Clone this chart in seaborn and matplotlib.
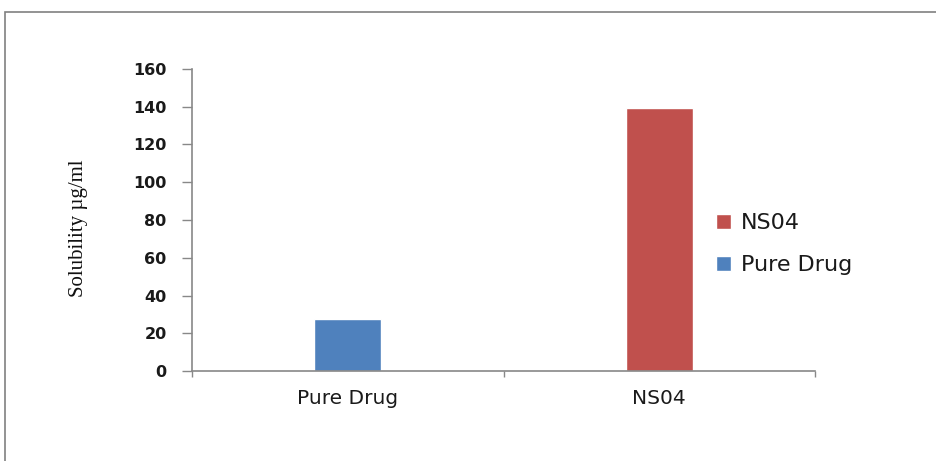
import matplotlib
matplotlib.use("Agg")
import matplotlib.pyplot as plt
from matplotlib.patches import Rectangle, Patch
import seaborn as sns
import pandas as pd

categories = ["Pure Drug", "NS04"]
solubility = [27.5, 139.5]
colors = {"Pure Drug": "#4F81BD", "NS04": "#C0504D"}
y_ticks = [0, 20, 40, 60, 80, 100, 120, 140, 160]

df = pd.DataFrame({"Formulation": categories, "Solubility": solubility})

sns.set_style("white")
plt.rcParams["font.family"] = ["DejaVu Sans"]

fig = plt.figure(figsize=(9.36, 4.61), dpi=100)
ax = fig.add_axes([192 / 936, 1 - 371 / 461, (815 - 192) / 936, (371 - 69) / 461])

sns.barplot(data=df, x="Formulation", y="Solubility", hue="Formulation",
            palette=colors, dodge=False, width=0.215, legend=False, ax=ax,
            saturation=1)

text_color = "#1A1A1A"
ax.set_xlim(-0.5, 1.5)
ax.set_ylim(0, 160)
ax.set_yticks(y_ticks)
ax.set_yticklabels([str(t) for t in y_ticks], fontsize=11.5, color=text_color,
                   fontweight="bold")
ax.set_xticks([0, 1])
ax.set_xticklabels(categories, fontsize=14.5, color=text_color)
ax.set_xlabel("")
ax.set_ylabel("")
fig.text(78 / 936, 1 - 228 / 461, "Solubility µg/ml", rotation=90,
         ha="center", va="center", fontsize=15, family="Liberation Serif",
         color="#111111")

gray = "#888888"
for side in ["top", "right"]:
    ax.spines[side].set_visible(False)
for side in ["left", "bottom"]:
    ax.spines[side].set_color(gray)
    ax.spines[side].set_linewidth(1.2)

ax.tick_params(axis="y", direction="out", length=7.2, width=1, color=gray,
               left=True, pad=11)
ax.tick_params(axis="x", which="major", length=0, pad=13)
# category separators on the x axis
ax.set_xticks([-0.5, 0.5, 1.5], minor=True)
ax.tick_params(axis="x", which="minor", direction="out", length=4.5, width=1,
               color=gray, bottom=True)

handles = [Patch(facecolor=colors["NS04"], label="NS04"),
           Patch(facecolor=colors["Pure Drug"], label="Pure Drug")]
leg = fig.legend(handles=handles, loc="upper left",
                 bbox_to_anchor=(716 / 936, 1 - 213 / 461), frameon=False,
                 fontsize=16, handlelength=0.66, handleheight=0.66,
                 handletextpad=0.45, labelspacing=1.0, borderpad=0,
                 borderaxespad=0)
for t in leg.get_texts():
    t.set_color(text_color)

fig.patches.append(Rectangle((5 / 936, -0.1), 1.0, 1 - 12 / 461 + 0.1,
                             transform=fig.transFigure, fill=False,
                             edgecolor="#808080", linewidth=1.2))

fig.savefig("out.png", dpi=100)
